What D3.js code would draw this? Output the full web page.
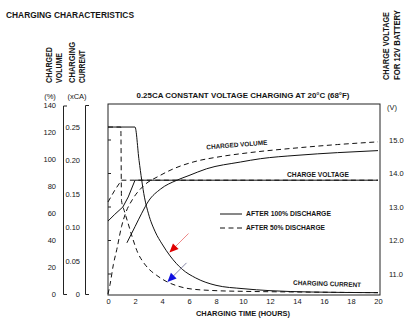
<!DOCTYPE html>
<html><head><meta charset="utf-8">
<script src="https://cdn.jsdelivr.net/npm/d3@7/dist/d3.min.js"></script>
<style>
body{margin:0;background:#fff;}
svg{display:block;font-family:"Liberation Sans",Arial,Helvetica,sans-serif;}
text{fill:#151515;}
</style></head>
<body><svg id="c" width="418" height="325"></svg>
<script>
// ---- data ----
const xTicks = [0,2,4,6,8,10,12,14,16,18,20];
const pctTicks = [0,20,40,60,80,100,120,140];
const caTicks = [0,0.05,0.10,0.15,0.20,0.25];
const voltTicks = [11,12,13,14,15];

// charging current (xCA) vs hours
const curSolidT = [0,2.0,2.3,2.7,3.0,3.5,4.0,4.6,5.5,6.5,8,10,12,15,20];
const curSolidV = [0.25,0.25,0.20,0.145,0.12,0.093,0.075,0.057,0.037,0.024,0.013,0.008,0.005,0.003,0.002];
const curDashT = [0,0.95,1.0,1.2,1.5,1.8,2.2,2.6,3.0,3.6,4.3,5.0,6.0,8,10,14,20];
const curDashV = [0.25,0.25,0.14,0.125,0.105,0.085,0.062,0.048,0.038,0.028,0.019,0.013,0.008,0.005,0.004,0.003,0.002];

// charged volume (%) vs hours
const volSolidT = [1.4,2.0,2.5,3.0,3.9,5.1,6,7.3,9.8,11.3,14,17,20];
const volSolidV = [38,50,60,69,78,84.5,88,93,98,100.5,103,105,106.5];
const volDashT = [0,0.15,0.4,0.65,1.0,1.3,1.8,2.6,3.85,4.85,6.3,8.3,10.5,14,17,20];
const volDashV = [0,7,22,33,50,60,70,80,88,93,98,102,105,108.5,111,113];

// charge voltage (V) vs hours
const vSolidT = [0,0.5,1.1,1.5,2.0,20];
const vSolidV = [12.58,12.78,13.0,13.3,13.8,13.8];
const vDashT = [0,0.5,1.0,20];
const vDashV = [13.15,13.5,13.8,13.8];

// arrow annotations (hours, xCA)
const arrowT = [4.55,4.4];
const arrowCA = [0.062,0.018];
const arrowColor = ["#e00000","#1010e0"];
const arrowLine = ["#e88","#88a"];

// ---- drawing ----
const svg = d3.select("#c");
const X0=108, X1=378, BR=380, BT=104, BB=295;
const x = d3.scaleLinear([0,20],[X0,X1]);
const yP = d3.scaleLinear([0,140],[294,105.5]);
const yC = d3.scaleLinear([0,0.283],[294,105]);
const yV = d3.scaleLinear([11,15],[274,140]);

// title
svg.append("text").attr("x",6).attr("y",17.5).attr("font-size",9.5).attr("font-weight","bold")
  .attr("textLength",128).attr("lengthAdjust","spacingAndGlyphs").text("CHARGING CHARACTERISTICS");

// vertical labels
function vlab(cx,by,str,len){
  svg.append("text").attr("transform",`translate(${cx},${by}) rotate(-90)`)
   .attr("dominant-baseline","central").attr("font-size",8.5).attr("font-weight","bold")
   .attr("textLength",len).attr("lengthAdjust","spacingAndGlyphs").text(str);
}
vlab(48.5,83,"CHARGED",36);
vlab(58.5,83,"VOLUME",30);
vlab(72,83,"CHARGING",41);
vlab(81.5,83,"CURRENT",33);
vlab(386,80,"CHARGE VOLTAGE",68);
vlab(396.5,80,"FOR 12V BATTERY",70);

svg.append("text").attr("x",50).attr("y",98.5).attr("text-anchor","middle").attr("font-size",7.5).text("(%)");
svg.append("text").attr("x",77).attr("y",98.5).attr("text-anchor","middle").attr("font-size",7.5).text("(xCA)");
svg.append("text").attr("x",392).attr("y",110).attr("text-anchor","middle").attr("font-size",7.5).text("(V)");

// left axes
const axP = svg.append("g").attr("transform","translate(63,0)")
  .call(d3.axisLeft(yP).tickValues(pctTicks).tickSizeInner(0).tickSizeOuter(-4).tickPadding(7));
const axC = svg.append("g").attr("transform","translate(85,0)")
  .call(d3.axisLeft(yC).tickValues(caTicks).tickSizeInner(0).tickSizeOuter(-4).tickPadding(5)
    .tickFormat(d=> d===0?"0":d3.format(".2f")(d)));
[axP,axC].forEach(a=>{a.selectAll("text").attr("font-size",7.5).attr("font-family",null).attr("fill","#151515");
  a.select(".domain").attr("stroke","#222");});

// right voltage labels
svg.append("g").selectAll("text").data(voltTicks).join("text")
  .attr("x",389).attr("y",d=>yV(d)).attr("dy","0.35em").attr("font-size",7.5)
  .text(d=>d3.format(".1f")(d));

// box
svg.append("rect").attr("x",X0).attr("y",BT).attr("width",BR-X0).attr("height",BB-BT)
  .attr("fill","none").attr("stroke","#222").attr("stroke-width",1);
// inner left ticks at voltage levels
svg.append("g").selectAll("line").data(voltTicks).join("line")
  .attr("x1",X0).attr("x2",X0+3).attr("y1",d=>yV(d)).attr("y2",d=>yV(d)).attr("stroke","#222");

// x axis labels
const axX = svg.append("g").attr("transform",`translate(0,${BB})`)
  .call(d3.axisBottom(x).tickValues(xTicks).tickSize(0).tickPadding(4));
axX.select(".domain").remove();
axX.selectAll("text").attr("font-size",7.5).attr("font-family",null).attr("fill","#151515");

svg.append("text").attr("x",243).attr("y",316).attr("text-anchor","middle").attr("font-size",8)
  .attr("font-weight","bold").attr("textLength",94).attr("lengthAdjust","spacingAndGlyphs").text("CHARGING TIME (HOURS)");
svg.append("text").attr("x",243).attr("y",98).attr("text-anchor","middle").attr("font-size",7.5)
  .attr("font-weight","bold").attr("textLength",213).attr("lengthAdjust","spacingAndGlyphs")
  .text("0.25CA CONSTANT VOLTAGE CHARGING AT 20°C (68°F)");

// curves
function draw(T,V,ys,dashed,curve){
  const pts = T.map((t,i)=>[t,V[i]]);
  svg.append("path").datum(pts)
    .attr("d",d3.line().x(d=>x(d[0])).y(d=>ys(d[1])).curve(curve))
    .attr("fill","none").attr("stroke","#111").attr("stroke-width",1)
    .attr("stroke-dasharray",dashed?"5,3.5":null);
}
draw(vSolidT,vSolidV,yV,false,d3.curveLinear);
draw(vDashT,vDashV,yV,true,d3.curveLinear);
draw(volSolidT,volSolidV,yP,false,d3.curveMonotoneX);
draw(volDashT,volDashV,yP,true,d3.curveMonotoneX);
draw(curSolidT,curSolidV,yC,false,d3.curveMonotoneX);
draw(curDashT,curDashV,yC,true,d3.curveMonotoneX);

// curve labels
svg.append("text").attr("transform","translate(237,147) rotate(-4.5)").attr("text-anchor","middle")
  .attr("font-size",6.5).attr("font-weight","bold").attr("textLength",61).attr("lengthAdjust","spacingAndGlyphs").text("CHARGED VOLUME");
svg.append("text").attr("x",318).attr("y",177).attr("text-anchor","middle")
  .attr("font-size",6.5).attr("font-weight","bold").attr("textLength",62).attr("lengthAdjust","spacingAndGlyphs").text("CHARGE VOLTAGE");
svg.append("text").attr("transform","translate(327,286) rotate(2)").attr("text-anchor","middle")
  .attr("font-size",6.5).attr("font-weight","bold").attr("textLength",68).attr("lengthAdjust","spacingAndGlyphs").text("CHARGING CURRENT");

// legend
const leg = [{y:214,dash:null,t:"AFTER 100% DISCHARGE",l:85},{y:228,dash:"5,3.5",t:"AFTER 50% DISCHARGE",l:79}];
leg.forEach(d=>{
  svg.append("line").attr("x1",220).attr("x2",242).attr("y1",d.y).attr("y2",d.y)
    .attr("stroke","#111").attr("stroke-dasharray",d.dash);
  svg.append("text").attr("x",246).attr("y",d.y).attr("dy","0.35em").attr("font-size",6.3).attr("font-weight","bold")
    .attr("textLength",d.l).attr("lengthAdjust","spacingAndGlyphs").text(d.t);
});

// arrows
arrowT.forEach((t,i)=>{
  const tx=x(t), ty=yC(arrowCA[i]);
  const ang=Math.atan2(-20,20);
  const ux=Math.cos(ang), uy=Math.sin(ang);
  svg.append("line").attr("x1",tx+ux*6).attr("y1",ty+uy*6).attr("x2",tx+ux*27).attr("y2",ty+uy*27)
    .attr("stroke",arrowLine[i]).attr("stroke-width",1);
  const L=9,W=4, bx=tx+ux*L, by=ty+uy*L, px=-uy, py=ux;
  svg.append("path").attr("d",`M${tx},${ty}L${bx+px*W},${by+py*W}L${bx-px*W},${by-py*W}Z`).attr("fill",arrowColor[i]);
});
</script></body></html>
